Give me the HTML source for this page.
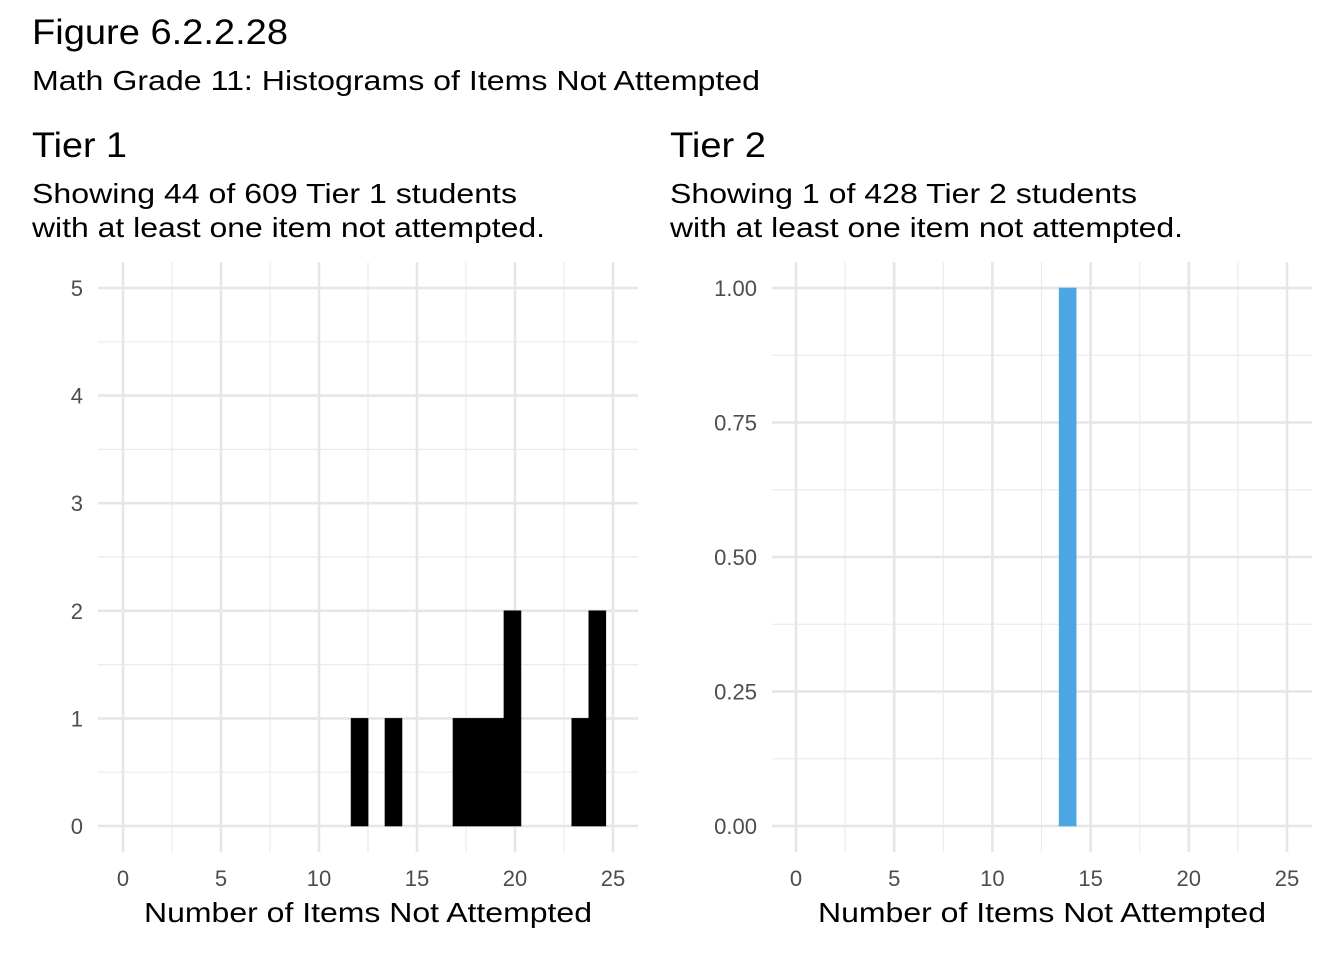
<!DOCTYPE html>
<html><head><meta charset="utf-8"><style>
body{margin:0;background:#fff;}
svg{display:block;font-family:"Liberation Sans",Arial,sans-serif;}
</style></head><body>
<svg id="chart" width="1344" height="960" viewBox="0 0 1344 960">
<text x="32" y="44" font-size="35" textLength="256" lengthAdjust="spacingAndGlyphs" fill="#000">Figure 6.2.2.28</text>
<text x="32" y="90" font-size="28" textLength="728" lengthAdjust="spacingAndGlyphs" fill="#000">Math Grade 11: Histograms of Items Not Attempted</text>
<text x="32" y="157" font-size="35" textLength="95" lengthAdjust="spacingAndGlyphs" fill="#000">Tier 1</text>
<text x="32" y="203" font-size="28" textLength="485" lengthAdjust="spacingAndGlyphs" fill="#000">Showing 44 of 609 Tier 1 students</text>
<text x="32" y="237" font-size="28" textLength="513" lengthAdjust="spacingAndGlyphs" fill="#000">with at least one item not attempted.</text>
<text x="670" y="157" font-size="35" textLength="96" lengthAdjust="spacingAndGlyphs" fill="#000">Tier 2</text>
<text x="670" y="203" font-size="28" textLength="467" lengthAdjust="spacingAndGlyphs" fill="#000">Showing 1 of 428 Tier 2 students</text>
<text x="670" y="237" font-size="28" textLength="513" lengthAdjust="spacingAndGlyphs" fill="#000">with at least one item not attempted.</text>
<g id="p1"></g>
<g id="p2"></g>
</svg>
<script>
const xTicks=[0,5,10,15,20,25];
const binWidth=0.867;
const tier1Centers=[12.07,13.8,17.27,18.13,19.0,19.87,23.33,24.2];
const tier1Counts=[1,1,1,1,1,2,1,2];
const tier1YTicks=[0,1,2,3,4,5];
const tier1YLabels=["0","1","2","3","4","5"];
const tier2Centers=[13.83];
const tier2Counts=[1];
const tier2YTicks=[0,0.25,0.5,0.75,1];
const tier2YLabels=["0.00","0.25","0.50","0.75","1.00"];
const NS="http://www.w3.org/2000/svg";
function mk(tag,attrs,parent){const e=document.createElementNS(NS,tag);for(const k in attrs)e.setAttribute(k,attrs[k]);parent.appendChild(e);return e;}
function panel(g,x0,x25,left,right,yMax,yTicks,yLabels,centers,counts,color,labelRight){
  const top=262,bottom=852,y0=826,yTop=288;
  const sx=v=>x0+(x25-x0)*v/25;
  const sy=v=>y0-(y0-yTop)*v/yMax;
  const step=yTicks[1]-yTicks[0];
  for(let i=0;i<yTicks.length-1;i++){
    const l=mk('line',{x1:left,x2:right,y1:sy(yTicks[i]+step/2),y2:sy(yTicks[i]+step/2),stroke:'#ebebeb','stroke-width':1.2},g);
    
  }
  for(let i=0;i<xTicks.length-1;i++){
    const l=mk('line',{x1:sx(xTicks[i]+2.5),x2:sx(xTicks[i]+2.5),y1:top,y2:bottom,stroke:'#ebebeb','stroke-width':1.2},g);
    
  }
  yTicks.forEach((v,i)=>{
    const l=mk('line',{x1:left,x2:right,y1:sy(v),y2:sy(v),stroke:'#e6e6e6','stroke-width':2.6},g);
    
    const t=mk('text',{x:labelRight,y:sy(v)+8,'font-size':22,fill:'#4d4d4d','text-anchor':'end'},g);
    t.textContent=yLabels[i];
    
  });
  xTicks.forEach(v=>{
    const l=mk('line',{x1:sx(v),x2:sx(v),y1:top,y2:bottom,stroke:'#e6e6e6','stroke-width':2.6},g);
    
    const t=mk('text',{x:sx(v),y:886,'font-size':22,fill:'#4d4d4d','text-anchor':'middle'},g);
    t.textContent=String(v);
    
  });
  centers.forEach((c,i)=>{
    const xl=sx(c-binWidth/2),xr=sx(c+binWidth/2);
    const r=mk('rect',{x:xl,y:sy(counts[i]),width:xr-xl,height:sy(0)-sy(counts[i]),fill:color,stroke:color,'stroke-width':0.6},g);
    
  });
  const at=mk('text',{x:(left+right)/2,y:922,'font-size':28,fill:'#000','text-anchor':'middle',textLength:448,lengthAdjust:'spacingAndGlyphs'},g);
  at.textContent='Number of Items Not Attempted';
  
}
panel(document.getElementById('p1'),123,613,98,638,5,tier1YTicks,tier1YLabels,tier1Centers,tier1Counts,'#000',83);
panel(document.getElementById('p2'),796,1287,772,1312,1,tier2YTicks,tier2YLabels,tier2Centers,tier2Counts,'#4da6e2',757);
</script>
</body></html>
